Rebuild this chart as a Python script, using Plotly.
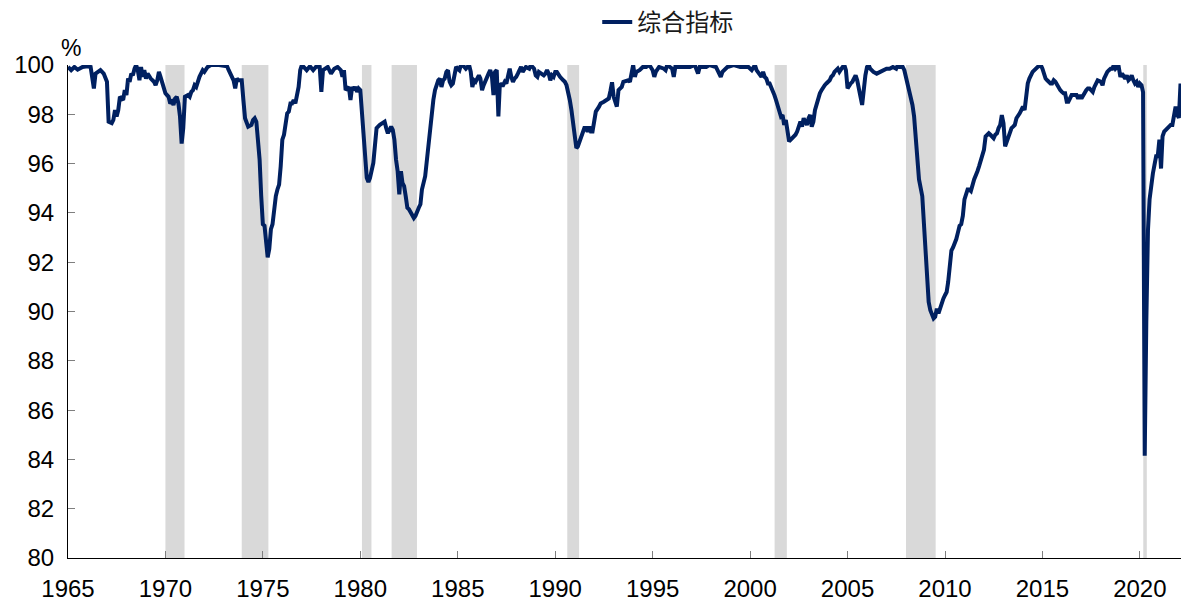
import plotly.graph_objects as go

# Composite indicator, monthly readings (%)
dates = [
    "1965-01", "1965-03", "1965-05", "1965-07", "1965-10",
    "1966-01", "1966-03", "1966-05", "1966-06", "1966-09", "1966-11",
    "1967-01", "1967-02", "1967-04", "1967-05", "1967-06", "1967-07", "1967-08", "1967-09", "1967-11", "1967-12",
    "1968-01", "1968-02", "1968-03", "1968-04", "1968-05", "1968-06", "1968-07", "1968-08", "1968-09", "1968-10", "1968-11", "1968-12",
    "1969-01", "1969-02", "1969-04", "1969-06", "1969-07", "1969-08", "1969-09", "1969-10", "1969-11",
    "1970-01", "1970-03", "1970-04", "1970-05", "1970-06", "1970-07", "1970-08", "1970-09", "1970-10", "1970-11", "1970-12",
    "1971-01", "1971-03", "1971-04", "1971-05", "1971-06", "1971-07", "1971-08", "1971-09", "1971-10", "1971-12",
    "1972-01", "1972-03", "1972-05", "1972-10",
    "1973-03", "1973-04", "1973-06", "1973-07", "1973-08", "1973-09", "1973-10", "1973-12",
    "1974-01", "1974-02", "1974-04", "1974-06", "1974-07", "1974-08", "1974-09", "1974-10", "1974-11", "1974-12",
    "1975-01", "1975-02", "1975-03", "1975-04", "1975-05", "1975-06", "1975-07", "1975-08", "1975-09", "1975-10", "1975-11", "1975-12",
    "1976-01", "1976-02", "1976-03", "1976-04", "1976-05", "1976-06", "1976-07", "1976-08", "1976-09", "1976-10", "1976-11", "1976-12",
    "1977-01", "1977-04", "1977-06", "1977-08", "1977-10", "1977-12",
    "1978-01", "1978-02", "1978-05", "1978-07", "1978-09", "1978-11",
    "1979-01", "1979-02", "1979-03", "1979-04", "1979-05", "1979-06", "1979-07", "1979-08", "1979-09", "1979-10", "1979-11", "1979-12",
    "1980-01", "1980-02", "1980-03", "1980-04", "1980-05", "1980-06", "1980-07", "1980-09", "1980-10", "1980-11",
    "1981-01", "1981-03", "1981-04", "1981-05", "1981-06", "1981-07", "1981-08", "1981-09", "1981-10", "1981-11", "1981-12",
    "1982-01", "1982-02", "1982-03", "1982-04", "1982-05", "1982-06", "1982-07", "1982-08", "1982-09", "1982-10", "1982-11", "1982-12",
    "1983-01", "1983-02", "1983-03", "1983-05", "1983-06", "1983-07", "1983-08", "1983-09", "1983-10", "1983-11", "1983-12",
    "1984-01", "1984-02", "1984-03", "1984-04", "1984-05", "1984-06", "1984-07", "1984-08", "1984-09", "1984-10", "1984-11", "1984-12",
    "1985-02", "1985-03", "1985-04", "1985-06", "1985-08", "1985-09", "1985-10", "1985-11", "1985-12",
    "1986-02", "1986-03", "1986-04", "1986-05", "1986-06", "1986-07", "1986-08", "1986-09", "1986-10", "1986-11", "1986-12",
    "1987-01", "1987-02", "1987-03", "1987-04", "1987-05", "1987-06", "1987-07", "1987-08", "1987-09", "1987-10", "1987-11", "1987-12",
    "1988-01", "1988-02", "1988-03", "1988-04", "1988-05", "1988-07", "1988-09", "1988-10", "1988-12",
    "1989-01", "1989-02", "1989-03", "1989-06", "1989-07", "1989-08", "1989-09", "1989-10", "1989-11", "1989-12",
    "1990-01", "1990-02", "1990-03", "1990-04", "1990-06", "1990-07", "1990-08", "1990-09", "1990-10", "1990-11", "1990-12",
    "1991-01", "1991-02", "1991-03", "1991-04", "1991-05", "1991-06", "1991-07", "1991-08", "1991-09", "1991-10", "1991-11", "1991-12",
    "1992-01", "1992-02", "1992-04", "1992-05", "1992-07", "1992-10", "1992-11", "1992-12",
    "1993-01", "1993-03", "1993-04", "1993-05", "1993-06", "1993-07", "1993-09", "1993-10", "1993-11", "1993-12",
    "1994-01", "1994-02", "1994-03", "1994-05", "1994-07", "1994-09", "1994-11",
    "1995-01", "1995-02", "1995-03", "1995-05", "1995-08", "1995-09", "1995-10", "1995-12",
    "1996-01", "1996-02", "1996-03", "1996-06", "1996-08", "1996-12",
    "1997-03", "1997-05", "1997-06", "1997-10", "1997-12",
    "1998-04", "1998-07", "1998-08", "1998-11",
    "1999-03", "1999-07", "1999-10", "1999-12",
    "2000-02", "2000-04", "2000-05", "2000-07", "2000-08", "2000-09", "2000-10", "2000-11", "2000-12",
    "2001-01", "2001-02", "2001-03", "2001-04", "2001-05", "2001-06", "2001-07", "2001-08", "2001-09", "2001-10", "2001-11", "2001-12",
    "2002-01", "2002-02", "2002-03", "2002-04", "2002-05", "2002-06", "2002-07", "2002-08", "2002-09", "2002-10", "2002-11", "2002-12",
    "2003-01", "2003-02", "2003-03", "2003-04", "2003-05", "2003-06", "2003-07", "2003-08", "2003-09", "2003-10", "2003-11", "2003-12",
    "2004-01", "2004-02", "2004-03", "2004-04", "2004-05", "2004-06", "2004-07", "2004-08", "2004-09", "2004-10", "2004-11", "2004-12",
    "2005-01", "2005-02", "2005-03", "2005-04", "2005-05", "2005-06", "2005-07", "2005-08", "2005-09", "2005-10", "2005-11", "2005-12",
    "2006-01", "2006-02", "2006-03", "2006-05", "2006-07", "2006-09", "2006-11",
    "2007-01", "2007-03", "2007-05", "2007-07", "2007-08", "2007-09", "2007-11", "2007-12",
    "2008-01", "2008-02", "2008-03", "2008-04", "2008-05", "2008-06", "2008-07", "2008-08", "2008-09", "2008-11", "2008-12",
    "2009-01", "2009-02", "2009-03", "2009-04", "2009-05", "2009-06", "2009-07", "2009-08", "2009-09", "2009-10", "2009-11", "2009-12",
    "2010-01", "2010-02", "2010-03", "2010-04", "2010-05", "2010-06", "2010-07", "2010-08", "2010-09", "2010-10", "2010-11", "2010-12",
    "2011-01", "2011-02", "2011-03", "2011-04", "2011-05", "2011-07", "2011-08", "2011-09", "2011-10", "2011-11", "2011-12",
    "2012-01", "2012-02", "2012-03", "2012-04", "2012-05", "2012-06", "2012-07", "2012-08", "2012-09", "2012-10", "2012-11", "2012-12",
    "2013-01", "2013-02", "2013-03", "2013-04", "2013-05", "2013-06", "2013-07", "2013-08", "2013-09", "2013-10", "2013-11", "2013-12",
    "2014-01", "2014-02", "2014-03", "2014-04", "2014-05", "2014-06", "2014-07", "2014-10", "2014-12",
    "2015-01", "2015-02", "2015-03", "2015-04", "2015-05", "2015-06", "2015-07", "2015-08", "2015-09", "2015-10", "2015-11", "2015-12",
    "2016-01", "2016-02", "2016-03", "2016-04", "2016-05", "2016-06", "2016-07", "2016-08", "2016-10", "2016-11", "2016-12",
    "2017-01", "2017-02", "2017-03", "2017-04", "2017-05", "2017-06", "2017-07", "2017-08", "2017-09", "2017-10", "2017-11",
    "2018-01", "2018-02", "2018-03", "2018-04", "2018-05", "2018-06", "2018-07", "2018-08", "2018-09", "2018-10", "2018-11", "2018-12",
    "2019-01", "2019-02", "2019-03", "2019-04", "2019-05", "2019-06", "2019-07", "2019-08", "2019-09", "2019-10", "2019-11", "2019-12",
    "2020-01", "2020-02", "2020-03", "2020-04", "2020-05", "2020-06", "2020-07", "2020-08", "2020-09", "2020-10", "2020-11", "2020-12",
    "2021-01", "2021-02", "2021-03", "2021-04", "2021-05", "2021-06", "2021-07", "2021-08", "2021-09", "2021-10", "2021-11", "2021-12",
    "2022-01", "2022-02",
]

values = [
    99.92, 99.79, 99.92, 99.81, 99.92,
    99.95, 99.92, 99.05, 99.65, 99.79, 99.65,
    99.32, 97.70, 97.64, 97.77, 98.17, 97.91, 98.17, 98.71, 98.58, 98.98,
    98.78, 99.45, 99.32, 99.65, 99.58, 99.85, 100.0, 99.79, 99.38, 99.92, 99.52, 99.79,
    99.45, 99.65, 99.45, 99.32, 99.18, 99.38, 99.72, 99.52, 99.25,
    98.85, 98.71, 98.44, 98.51, 98.38, 98.64, 98.71, 98.44, 97.91, 96.81, 97.44,
    98.71, 98.78, 98.71, 98.91, 98.98, 99.18, 99.11, 99.38, 99.52, 99.79,
    99.72, 99.92, 100.0, 100.0,
    99.95, 99.79, 99.52, 99.38, 99.05, 99.45, 99.38, 99.38,
    98.58, 97.84, 97.50, 97.57, 97.77, 97.84, 97.70, 96.83, 96.16, 94.68,
    93.54, 93.48, 92.67, 92.20, 92.54, 93.34, 93.54, 94.15, 94.68, 94.95, 95.15, 95.89,
    96.97, 97.17, 97.57, 98.04, 98.11, 98.44, 98.44, 98.58, 98.44, 98.71, 99.11, 99.79,
    100.0, 99.79, 99.95, 99.79, 99.95, 99.92,
    98.91, 99.79, 99.92, 99.65, 99.85, 99.92,
    99.79, 99.52, 99.79, 98.98, 99.05, 99.11, 98.58, 99.11, 98.98, 99.11, 98.91, 99.05,
    98.98, 98.17, 97.10, 96.16, 95.42, 95.25, 95.42, 96.03, 96.83, 97.44,
    97.57, 97.64, 97.70, 97.44, 97.23, 97.37, 97.50, 97.37, 96.97, 96.16, 95.69,
    94.75, 95.69, 95.22, 95.09, 94.68, 94.21, 94.15, 94.01, 93.88, 93.79, 93.88, 94.08,
    94.21, 94.35, 94.95, 95.49, 96.16, 96.83, 97.10, 97.97, 98.58, 98.98, 99.18,
    99.38, 99.45, 99.11, 99.38, 99.45, 99.72, 99.79, 99.32, 99.18, 99.25, 99.65, 99.92,
    99.79, 100.0, 100.0, 99.85, 100.0, 99.72, 99.11, 99.38, 99.32,
    99.58, 99.45, 98.98, 99.18, 99.38, 99.52, 99.65, 99.79, 99.58, 98.78, 99.72,
    99.79, 97.91, 99.25, 99.18, 99.18, 99.32, 99.25, 99.58, 99.85, 99.52, 99.32, 99.45,
    99.52, 99.65, 99.79, 99.92, 99.72, 99.92, 99.85, 100.0, 99.85,
    99.58, 99.52, 99.72, 99.58, 99.65, 99.79, 99.65, 99.38, 99.58, 99.52,
    99.72, 99.72, 99.58, 99.52, 99.38, 99.32, 99.18, 98.91, 98.58, 98.17, 97.64,
    97.03, 96.63, 96.70, 96.90, 97.17, 97.37, 97.44, 97.44, 97.30, 97.50, 97.30, 97.30,
    97.64, 98.11, 98.31, 98.44, 98.51, 98.64, 98.95, 99.30,
    98.71, 98.31, 98.98, 99.05, 99.11, 99.32, 99.38, 99.38, 99.32, 99.58,
    100.0, 99.52, 99.72, 99.79, 99.92, 99.92, 100.0,
    99.79, 99.52, 99.72, 99.92, 99.85, 99.79, 100.0, 99.92,
    99.85, 99.52, 99.92, 99.92, 99.92, 99.92,
    100.0, 99.65, 99.92, 99.92, 100.0,
    99.92, 99.52, 99.72, 99.92,
    100.0, 99.92, 99.92, 99.92,
    99.79, 100.0, 99.79, 99.65, 99.52, 99.72, 99.52, 99.45, 99.25,
    99.25, 99.11, 98.91, 98.78, 98.58, 98.38, 98.17, 97.91, 97.97, 97.57, 97.77, 97.30,
    96.90, 96.97, 97.03, 97.10, 97.17, 97.30, 97.50, 97.70, 97.50, 97.84, 97.70, 97.57,
    97.84, 97.97, 97.50, 97.70, 98.17, 98.38, 98.71, 98.85, 98.98, 99.11, 99.18, 99.25,
    99.32, 99.38, 99.52, 99.58, 99.72, 99.79, 99.85, 99.72, 99.85, 99.92, 100.0, 99.79,
    99.05, 99.18, 99.25, 99.32, 99.45, 99.58, 99.38, 99.11, 98.71, 98.38, 99.25, 99.58,
    99.92, 100.0, 99.85, 99.72, 99.65, 99.72, 99.79,
    99.85, 99.85, 99.92, 99.85, 100.0, 99.92, 99.92, 99.79,
    99.52, 99.25, 98.98, 98.71, 98.38, 97.91, 97.10, 96.43, 95.36, 94.68, 93.74,
    92.54, 91.46, 90.39, 90.05, 89.85, 89.72, 89.79, 90.12, 89.92, 90.12, 90.39, 90.52,
    90.66, 90.79, 91.19, 92.00, 92.47, 92.60, 92.74, 92.94, 93.21, 93.48, 93.54, 93.88,
    94.55, 94.82, 94.95, 94.95, 94.89, 95.36, 95.49, 95.69, 95.89, 96.16, 96.30,
    96.56, 97.10, 97.17, 97.23, 97.17, 97.10, 97.03, 97.17, 97.23, 97.44, 97.57, 97.97,
    97.64, 96.70, 96.90, 97.10, 97.23, 97.44, 97.50, 97.57, 97.84, 97.91, 98.04, 98.17,
    98.31, 98.17, 98.78, 99.25, 99.45, 99.58, 99.72, 99.92, 100.0,
    99.85, 99.65, 99.45, 99.38, 99.32, 99.25, 99.25, 99.38, 99.32, 99.18, 99.11, 98.98,
    98.91, 98.85, 98.85, 98.51, 98.51, 98.64, 98.78, 98.78, 98.78, 98.64, 98.78,
    98.64, 98.78, 98.85, 98.98, 99.05, 99.05, 98.98, 98.91, 99.11, 99.25, 99.38,
    99.32, 99.18, 99.45, 99.65, 99.72, 99.79, 99.85, 99.85, 100.0, 99.85, 99.92, 99.92,
    99.52, 99.65, 99.58, 99.45, 99.58, 99.38, 99.45, 99.58, 99.38, 99.25, 99.32, 99.11,
    99.25, 99.18, 98.90, 84.15, 89.60, 93.30, 94.55, 95.20, 95.60, 95.95, 96.30, 96.30,
    96.97, 95.80, 97.10, 97.30, 97.37, 97.44, 97.50, 97.57, 97.57, 97.97, 98.31, 98.00,
    97.85, 99.25,
]

# Shaded recession periods (start, end)
recession_starts = ["1970-01-01", "1973-12-01", "1980-02-01", "1981-08-10", "1990-08-15", "2001-04-05", "2008-01-01", "2020-03-05"]
recession_ends = ["1970-12-25", "1975-04-15", "1980-07-28", "1982-11-28", "1991-03-25", "2001-11-20", "2009-07-10", "2020-05-10"]

series_name = "综合指标"
y_ticks = [80, 82, 84, 86, 88, 90, 92, 94, 96, 98, 100]
x_tick_years = ["1965", "1970", "1975", "1980", "1985", "1990", "1995", "2000", "2005", "2010", "2015", "2020"]

LINE_COLOR = "#002060"
SHADE_COLOR = "#D9D9D9"

fig = go.Figure()

fig.add_trace(go.Scatter(
    x=dates,
    y=values,
    mode="lines",
    name=series_name,
    line=dict(color=LINE_COLOR, width=4),
    showlegend=True,
))

for s, e in zip(recession_starts, recession_ends):
    fig.add_shape(
        type="rect", xref="x", yref="paper",
        x0=s, x1=e, y0=0, y1=1,
        fillcolor=SHADE_COLOR, line=dict(width=0), layer="below",
    )

fig.add_annotation(
    text="%", xref="paper", yref="paper",
    x=0.003, y=1.034, xanchor="center", yanchor="middle",
    showarrow=False, font=dict(size=23, color="#000000"),
)

fig.update_layout(
    width=1181,
    height=601,
    margin=dict(l=68, r=0, t=63, b=43),
    plot_bgcolor="white",
    paper_bgcolor="white",
    font=dict(family="Liberation Sans, Arial, sans-serif", size=24, color="#000000"),
    legend=dict(
        orientation="h",
        x=0.4755, y=1.087, xanchor="left", yanchor="middle",
        font=dict(family="Noto Sans CJK SC, sans-serif", size=24, color="#1a1a1a"),
        bgcolor="rgba(0,0,0,0)",
    ),
    xaxis=dict(
        type="date",
        range=["1965-01-01", "2022-02-10"],
        tickvals=[y + "-01-01" for y in x_tick_years],
        ticktext=x_tick_years,
        ticks="inside",
        ticklen=7,
        tickwidth=1,
        tickcolor="#7f7f7f",
        showline=True,
        linecolor="#000000",
        linewidth=1,
        showgrid=False,
        zeroline=False,
        ticklabelstandoff=9,
    ),
    yaxis=dict(
        range=[80, 100],
        tickvals=y_ticks,
        ticks="inside",
        ticklen=7,
        tickwidth=1,
        tickcolor="#7f7f7f",
        showline=True,
        linecolor="#000000",
        linewidth=1,
        showgrid=False,
        zeroline=False,
        ticklabelstandoff=8,
    ),
)

fig.write_html("out.html")
